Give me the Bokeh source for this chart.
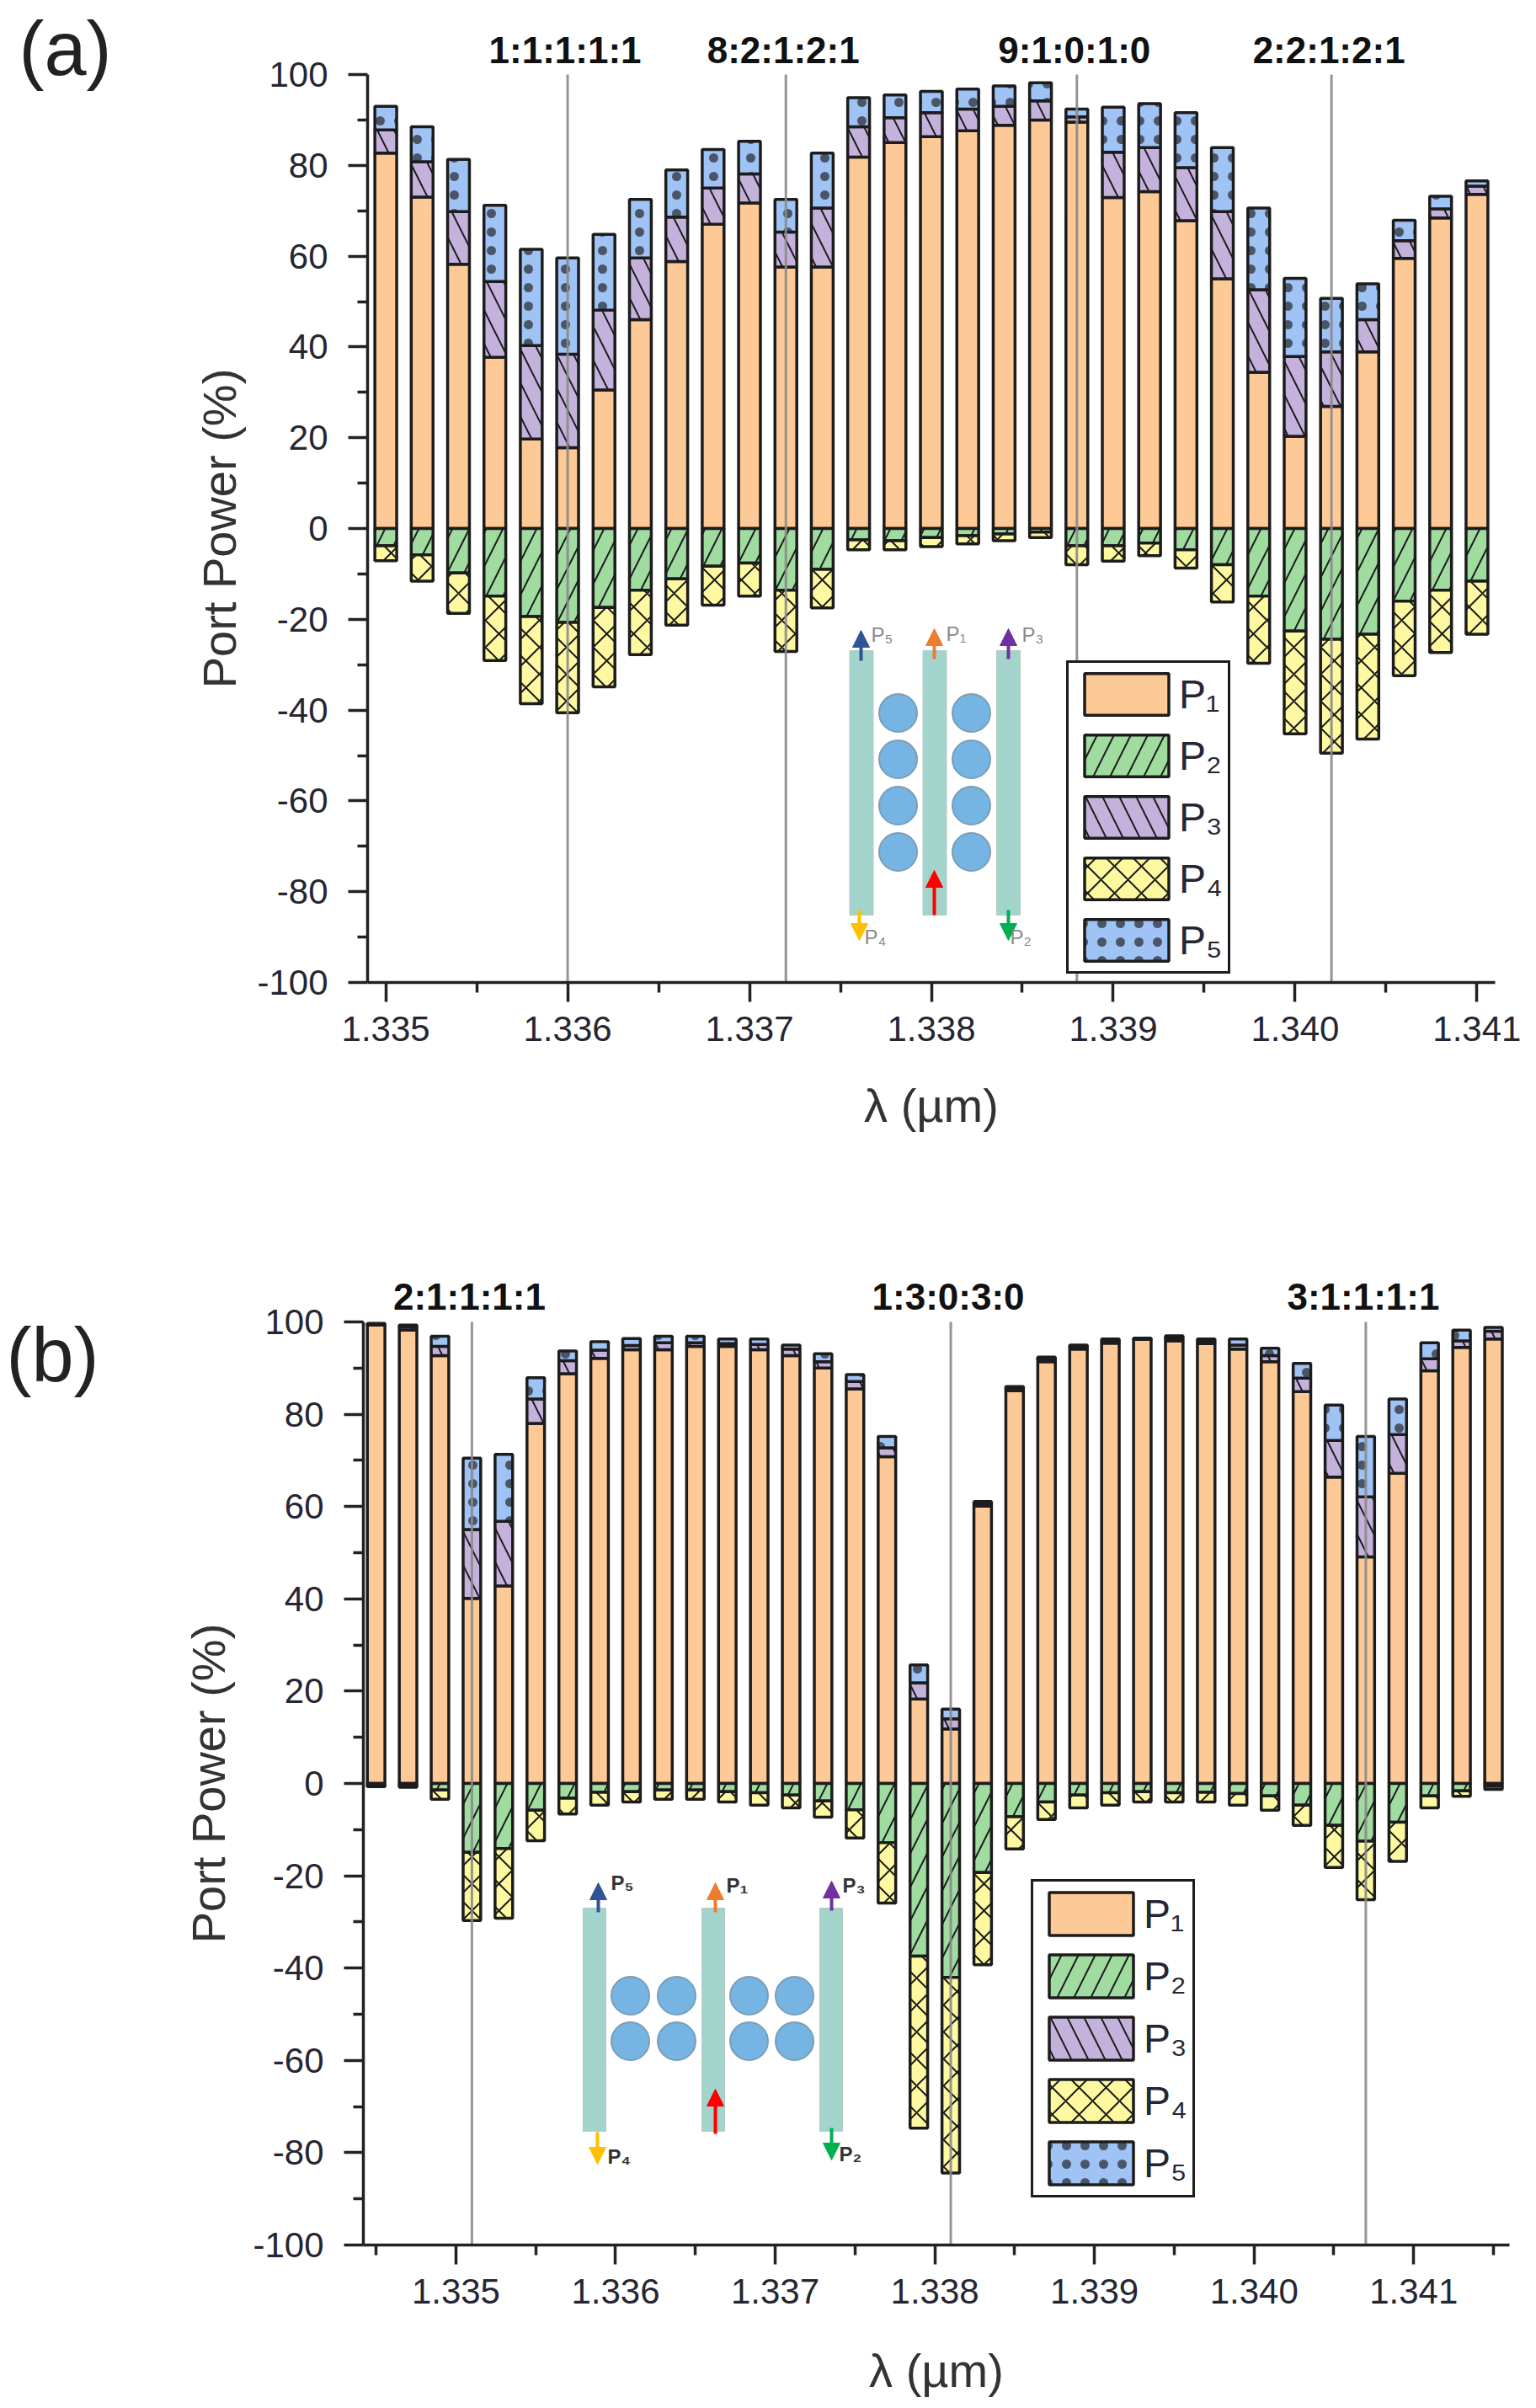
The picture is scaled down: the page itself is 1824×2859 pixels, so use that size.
from bokeh.plotting import figure
from bokeh.layouts import column
from bokeh.models import (Arrow, NormalHead, Label, Legend, LegendItem, FixedTicker,
                          PrintfTickFormatter, NumeralTickFormatter, Range1d)
from bokeh.core.properties import value
from bokeh.embed import file_html
from bokeh.resources import INLINE
import numpy as np

# ---------- data, panel (a) ----------
wl_a = [1.3350, 1.3352, 1.3354, 1.3356, 1.3358, 1.3360, 1.3362, 1.3364, 1.3366, 1.3368, 1.3370,
        1.3372, 1.3374, 1.3376, 1.3378, 1.3380, 1.3382, 1.3384, 1.3386, 1.3388, 1.3390,
        1.3392, 1.3394, 1.3396, 1.3398, 1.3400, 1.3402, 1.3404, 1.3406, 1.3408, 1.3410]
p1_a = [82.7, 73, 58.2, 37.7, 19.7, 17.8, 30.5, 46, 58.8, 67, 71.7, 57.6, 57.6, 81.8, 85, 86.3,
        87.6, 88.8, 90, 89.5, 72.9, 74.2, 67.8, 55, 34.4, 20.3, 26.9, 38.9, 59.5, 68.4, 73.6]
p3_a = [5.1, 7.8, 11.6, 16.7, 20.6, 20.6, 17.6, 13.6, 9.8, 8, 6.4, 7.7, 13, 6.7, 5.5, 5.3,
        4.8, 4.2, 4.2, 1.2, 10, 9.7, 11.7, 14.8, 18.2, 17.6, 12, 7.1, 3.9, 2, 1.8]
p5_a = [5.2, 7.7, 11.5, 16.8, 21.2, 21.2, 16.7, 12.9, 10.4, 8.5, 7.2, 7.2, 12.1, 6.4, 5, 4.7,
        4.4, 4.5, 4, 1.7, 9.9, 9.7, 12.1, 14.1, 18, 17.2, 11.8, 7.9, 4.5, 2.8, 1.2]
p2_a = [3.8, 5.8, 9.8, 14.9, 19.4, 20.7, 17.4, 13.6, 11.1, 8.3, 7.6, 13.6, 9, 2.5, 2.7, 2,
        1.6, 1.2, 0.8, 3.8, 3.8, 3.2, 4.7, 8, 14.9, 22.6, 24.4, 23.3, 16, 13.6, 11.6]
p4_a = [3.3, 5.8, 8.9, 14.2, 19.2, 19.9, 17.5, 14.2, 10.2, 8.6, 7.3, 13.5, 8.5, 2.2, 2, 2,
        1.8, 1.5, 1.2, 4.2, 3.4, 2.8, 4, 8.2, 14.8, 22.6, 25.1, 23.1, 16.4, 13.7, 11.7]
marks_a = [1.3360, 1.3372, 1.3388, 1.3402]
ratios_a = ["1:1:1:1:1", "8:2:1:2:1", "9:1:0:1:0", "2:2:1:2:1"]

# ---------- data, panel (b) ----------
wl_b = [1.3345, 1.3347, 1.3349, 1.3351, 1.3353, 1.3355, 1.3357, 1.3359, 1.3361, 1.3363, 1.3365, 1.3367,
        1.3369, 1.3371, 1.3373, 1.3375, 1.3377, 1.3379, 1.3381, 1.3383, 1.3385, 1.3387, 1.3389, 1.3391,
        1.3393, 1.3395, 1.3397, 1.3399, 1.3401, 1.3403, 1.3405, 1.3407, 1.3409, 1.3411, 1.3413, 1.3415]
p1_b = [99.3, 98.2, 92.7, 40.1, 42.8, 78, 88.8, 92.1, 94, 94, 94.7, 94.7, 94, 92.7, 90, 85.5, 70.8, 18.3,
        11.8, 60.1, 85.1, 91.4, 94.1, 95.4, 96.2, 95.9, 95.3, 94.1, 91.4, 84.9, 66.4, 49.1, 67.2, 89.4, 94.5, 96.3]
p3_b = [0.2, 0.7, 2, 14.9, 14, 5.3, 2.8, 1.8, 0.9, 1.5, 0.8, 0.6, 1.1, 1.4, 1.4, 1.6, 1.9, 3.5,
        2.2, 0.4, 0.4, 0.6, 0.4, 0.5, 0.1, 0.6, 0.6, 0.9, 1.3, 2.9, 7.9, 13, 8.4, 2.6, 1.4, 1.7]
p5_b = [0.2, 0.4, 2.2, 15.5, 14.5, 4.6, 2.1, 1.8, 1.5, 1.4, 1.4, 1, 1.2, 0.9, 1.7, 1.5, 2.5, 3.9,
        2.1, 0.6, 0.5, 0.4, 0.5, 0.4, 0.2, 0.5, 0.4, 1.3, 1.6, 3.2, 7.7, 13.1, 7.7, 3.5, 2.3, 0.8]
p2_b = [0.3, 0.3, 1.4, 14.9, 14.1, 5.8, 3.2, 1.9, 1.8, 1.4, 1.4, 1.8, 2, 2.5, 3.8, 5.7, 12.8, 37.4,
        42, 19.3, 7.2, 4, 2.5, 2, 1.8, 2, 1.9, 2.2, 2.7, 4.7, 9.1, 12.5, 8.4, 2.7, 1.6, 0.6]
p4_b = [0.4, 0.5, 2, 14.8, 15.1, 6.6, 3.4, 2.8, 2.2, 2, 2, 2.2, 2.7, 2.8, 3.5, 6.1, 13.1, 37.3,
        42.4, 20, 7, 3.8, 2.8, 2.7, 2.2, 2, 2.1, 2.5, 3.1, 4.4, 9.1, 12.7, 8.5, 2.6, 1.2, 0.7]
marks_b = [1.3351, 1.3381, 1.3407]
ratios_b = ["2:1:1:1:1", "1:3:0:3:0", "3:1:1:1:1"]

y_ticks = [-100, -80, -60, -40, -20, 0, 20, 40, 60, 80, 100]
y_minor = [-90, -70, -50, -30, -10, 10, 30, 50, 70, 90]
x_ticks = [1.335, 1.336, 1.337, 1.338, 1.339, 1.340, 1.341]
x_minor_a = [1.3355, 1.3365, 1.3375, 1.3385, 1.3395, 1.3405]
x_minor_b = [1.3345, 1.3355, 1.3365, 1.3375, 1.3385, 1.3395, 1.3405, 1.3415]
port_names = ["P\u2081", "P\u2082", "P\u2083", "P\u2084", "P\u2085"]

COL = dict(p1="#FDC996", p2="#A0DBA0", p3="#C5B2DC", p4="#FEF9A0", p5="#A0C3F5")
INK = "#1c1c1c"
FONT = "Liberation Sans"


def panel(tag, tag_xy, wl, p1, p2, p3, p4, p5, marks, ratios, ratio_y, xr, page_top, page_h,
          frame_l, frame_r, frame_t, frame_b, bar_w, x_minor, legend_loc, legend_geom, label_standoff):
    def px(x):
        return xr[0] + (x - frame_l) / (frame_r - frame_l) * (xr[1] - xr[0])

    def py(y):
        return 100 - (y - frame_t) / (frame_b - frame_t) * 200

    # the plotting area fills the whole canvas so that the texts above the axes are not clipped
    f = figure(width=1808, height=page_h, x_range=Range1d(px(0), px(1808)),
               y_range=Range1d(py(page_top + page_h), py(page_top)),
               min_border=0, output_backend="svg", toolbar_location=None, outline_line_color=None,
               background_fill_color="white", border_fill_color="white")
    f.grid.visible = False

    wl = np.array(wl)
    c1, c3, c5 = np.array(p1), np.array(p1) + np.array(p3), np.array(p1) + np.array(p3) + np.array(p5)
    c2, c4 = -np.array(p2), -np.array(p2) - np.array(p4)
    common = dict(x=wl, width=bar_w, line_color=INK, line_width=3.5, hatch_color=INK)
    r1 = f.vbar(top=c1, bottom=0, fill_color=COL["p1"], **common)
    r3 = f.vbar(top=c3, bottom=c1, fill_color=COL["p3"], hatch_pattern="left_diagonal_line", hatch_scale=40, hatch_weight=2, hatch_alpha=1.0, **common)
    r5 = f.vbar(top=c5, bottom=c3, fill_color=COL["p5"], hatch_pattern="dot", hatch_scale=22, hatch_weight=1, hatch_alpha=0.65, **common)
    r2 = f.vbar(top=0, bottom=c2, fill_color=COL["p2"], hatch_pattern="right_diagonal_line", hatch_scale=40, hatch_weight=2, hatch_alpha=1.0, **common)
    r4 = f.vbar(top=c2, bottom=c4, fill_color=COL["p4"], hatch_pattern="diagonal_cross", hatch_scale=32, hatch_weight=2, hatch_alpha=1.0, **common)

    f.segment(x0=marks, y0=[-100] * len(marks), x1=marks, y1=[100] * len(marks),
              line_color="#8a8a8a", line_width=3, line_alpha=0.9)
    for m, t in zip(marks, ratios):
        f.add_layout(Label(x=m, y=py(ratio_y), x_offset=-3, text=t, text_font=FONT, text_font_style="bold",
                           text_font_size="44px", text_color="#111111", text_align="center",
                           text_baseline="middle"))

    ax = f.xaxis[0]
    ay = f.yaxis[0]
    ax.fixed_location = -100
    ax.bounds = (xr[0], xr[1])
    ay.fixed_location = xr[0]
    ay.bounds = (-100, 100)
    ax.ticker = FixedTicker(ticks=x_ticks, minor_ticks=x_minor)
    ay.ticker = FixedTicker(ticks=y_ticks, minor_ticks=y_minor)
    ax.formatter = NumeralTickFormatter(format="0.000")
    ay.formatter = PrintfTickFormatter(format="%d")
    for a in (ax, ay):
        a.axis_line_width = 3.5
        a.axis_line_color = "#222222"
        a.major_tick_line_width = 3.5
        a.minor_tick_line_width = 3.5
        a.major_tick_line_color = "#222222"
        a.minor_tick_line_color = "#222222"
        a.major_tick_in = 0
        a.minor_tick_in = 0
        a.major_tick_out = 23
        a.minor_tick_out = 12
        a.major_label_text_font = FONT
        a.major_label_text_font_size = "42px"
        a.major_label_text_color = "#262633"
        a.axis_label_text_font = FONT
        a.axis_label_text_font_size = "56px"
        a.axis_label_text_font_style = "normal"
        a.axis_label_text_color = "#333333"
    ax.axis_label = "\u03bb (\u00b5m)"
    ay.axis_label = "Port Power (%)"
    ax.major_label_standoff = 17
    ay.major_label_standoff = 24
    ay.axis_label_standoff = label_standoff[0]
    ax.axis_label_standoff = label_standoff[1]

    f.add_layout(Label(x=px(tag_xy[0]), y=py(tag_xy[1]), text=tag, text_font=FONT, text_font_size="90px",
                       text_color="#222222", text_align="left", text_baseline="middle"))

    items = [LegendItem(label=value(port_names[0]), renderers=[r1]),
             LegendItem(label=value(port_names[1]), renderers=[r2]),
             LegendItem(label=value(port_names[2]), renderers=[r3]),
             LegendItem(label=value(port_names[3]), renderers=[r4]),
             LegendItem(label=value(port_names[4]), renderers=[r5])]
    gw, gh, sp = legend_geom
    lx, ly = legend_loc
    leg = Legend(items=items, location=(lx, ly + (page_top + page_h - frame_b)), orientation="vertical",
                 glyph_width=gw, glyph_height=gh, spacing=sp, padding=6, margin=0,
                 label_standoff=0, label_text_font=FONT, label_text_font_size="48px",
                 label_text_color="#262633", border_line_color=INK, border_line_width=3, border_line_alpha=1.0,
                 background_fill_color="white", background_fill_alpha=1.0)
    f.add_layout(leg, "center")
    return f, px, py


def inset(f, px, py, guides, gy, cx, cy, cd, arrows, labels, lab_color, lab_style):
    f.quad(left=[px(a) for a, b in guides], right=[px(b) for a, b in guides],
           top=[py(gy[0])] * len(guides), bottom=[py(gy[1])] * len(guides),
           fill_color="#A3D4CC", line_color="#B5C9C6", line_width=1)
    xs = [px(c) for c in cx for _ in cy]
    ys = [py(c) for _ in cx for c in cy]
    f.scatter(xs, ys, marker="circle", size=cd, fill_color="#76B5E3", line_color="#7B9DB5", line_width=2)
    for x, y0, y1, col in arrows:
        f.add_layout(Arrow(x_start=px(x), y_start=py(y0), x_end=px(x), y_end=py(y1), line_color=col, line_width=4,
                           end=NormalHead(size=20, fill_color=col, line_color=col, line_width=1)))
    for t, x, y in labels:
        f.add_layout(Label(x=px(x), y=py(y), text=t, text_font=FONT, text_font_size="24px", text_font_style=lab_style,
                           text_color=lab_color, text_align="left", text_baseline="middle"))


fa, pxa, pya = panel("(a)", (22, 57), wl_a, p1_a, p2_a, p3_a, p4_a, p5_a, marks_a, ratios_a, 59,
                     (1.3349, 1.3411), 0, 1420, 436, 1775, 88, 1166, 0.00012, x_minor_a,
                     (1266, 10), (125, 62, 11), (10, 42))
inset(fa, pxa, pya, [(1008.5, 1036.5), (1095.5, 1123.5), (1183, 1211)], (772, 1086),
      [1066, 1153], [846, 901, 956, 1011], 45,
      [(1022, 784, 748, "#2F5597"), (1109, 782, 746, "#ED7D31"), (1197, 782, 746, "#7030A0"),
       (1109, 1086, 1033, "#FF0000"), (1020, 1080, 1116, "#FFC000"), (1197, 1080, 1116, "#00B050")],
      [("P\u2085", 1034, 753), ("P\u2081", 1123, 752), ("P\u2083", 1213, 753),
       ("P\u2084", 1026, 1112), ("P\u2082", 1199, 1112)], "#8a8a8a", "normal")

fb, pxb, pyb = panel("(b)", (7, 1608), wl_b, p1_b, p2_b, p3_b, p4_b, p5_b, marks_b, ratios_b, 1539,
                     (1.33442, 1.34160), 1420, 1431, 431, 1792, 1569, 2665, 0.00011, x_minor_b,
                     (1224, 56), (125, 64, 10), (18, 45))
inset(fb, pxb, pyb, [(692, 719), (833, 860), (973, 1000)], (2265, 2530),
      [748, 803, 889, 943], [2369, 2423], 45,
      [(710, 2270, 2235, "#2F5597"), (849, 2270, 2235, "#ED7D31"), (987, 2268, 2233, "#7030A0"),
       (849, 2533, 2480, "#FF0000"), (709, 2531, 2569, "#FFC000"), (987, 2526, 2564, "#00B050")],
      [("P\u2085", 725, 2235), ("P\u2081", 862, 2238), ("P\u2083", 1000, 2238),
       ("P\u2084", 721, 2560), ("P\u2082", 996, 2557)], "#333333", "bold")

page = column(fa, fb, spacing=0)
open("out.html", "w").write(file_html(page, INLINE))
